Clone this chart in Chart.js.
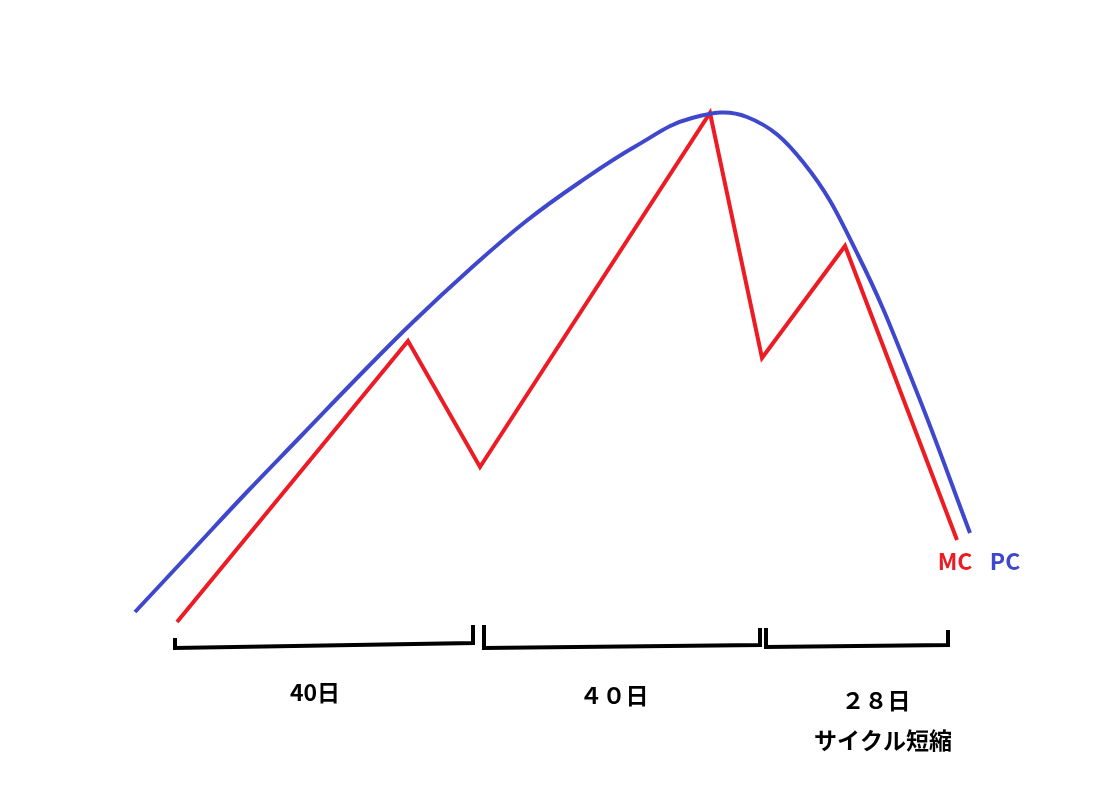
<!DOCTYPE html>
<html>
<head>
<meta charset="utf-8">
<script src="https://cdn.jsdelivr.net/npm/chart.js@4"></script>
<style>
  body { margin: 0; background: #fff; }
</style>
</head>
<body>
<canvas id="cycleChart" width="1106" height="806"></canvas>
<script>
// PC curve (blue), drawn in picture units
const pcX = [135, 191, 246, 302, 358, 413, 469, 525, 580, 636, 692, 747, 803, 858, 914, 970];
const pcY = [612, 552, 493, 435, 377, 322, 270, 222, 182, 146, 118, 117, 162, 255, 385, 533];

// MC zigzag (red)
const mcX = [177, 408, 480, 710, 762, 845, 957];
const mcY = [622, 341, 467, 113, 358, 246, 540];

// brackets under the chart (null = gap)
const brX = [175, 175, 473, 473, null, 484, 484, 760, 760, null, 766, 766, 948, 948];
const brY = [638, 648, 643, 625, null, 625, 648, 645, 628, null, 628, 647, 645, 630];

// labels
const labelText = ["40日", "４０日", "２８日", "サイクル短縮", "MC", "PC"];
const labelX = [315, 614, 876, 883, 955, 1005];
const labelY = [692, 695, 700, 740, 561, 561];
const labelColor = ["#000", "#000", "#000", "#000", "#ed1c24", "#3f48cc"];

function pts(xs, ys) {
  return xs.map((x, i) => (x === null ? { x: NaN, y: NaN } : { x: x, y: ys[i] }));
}

const textPlugin = {
  id: "texts",
  afterDraw(chart) {
    const c = chart.ctx;
    const sx = chart.scales.x, sy = chart.scales.y;
    c.save();
    c.font = "bold 23px 'Noto Sans CJK JP', 'Noto Sans', sans-serif";
    c.textAlign = "center";
    c.textBaseline = "middle";
    labelText.forEach((t, i) => {
      c.fillStyle = labelColor[i];
      c.fillText(t, sx.getPixelForValue(labelX[i]), sy.getPixelForValue(labelY[i]));
    });
    c.restore();
  }
};

new Chart(document.getElementById("cycleChart").getContext("2d"), {
  type: "line",
  data: {
    datasets: [
      { data: pts(pcX, pcY), borderColor: "#3f48cc", borderWidth: 4, tension: 0.4, pointRadius: 0 },
      { data: pts(mcX, mcY), borderColor: "#ed1c24", borderWidth: 4, tension: 0, pointRadius: 0 },
      { data: pts(brX, brY), borderColor: "#000", borderWidth: 4, tension: 0, pointRadius: 0, spanGaps: false }
    ]
  },
  options: {
    responsive: false,
    devicePixelRatio: 1,
    animation: false,
    layout: { padding: 0 },
    plugins: { legend: { display: false }, tooltip: { enabled: false } },
    scales: {
      x: { type: "linear", min: 0, max: 1106, display: false },
      y: { type: "linear", min: 0, max: 806, reverse: true, display: false }
    }
  },
  plugins: [textPlugin]
});
</script>
</body>
</html>
